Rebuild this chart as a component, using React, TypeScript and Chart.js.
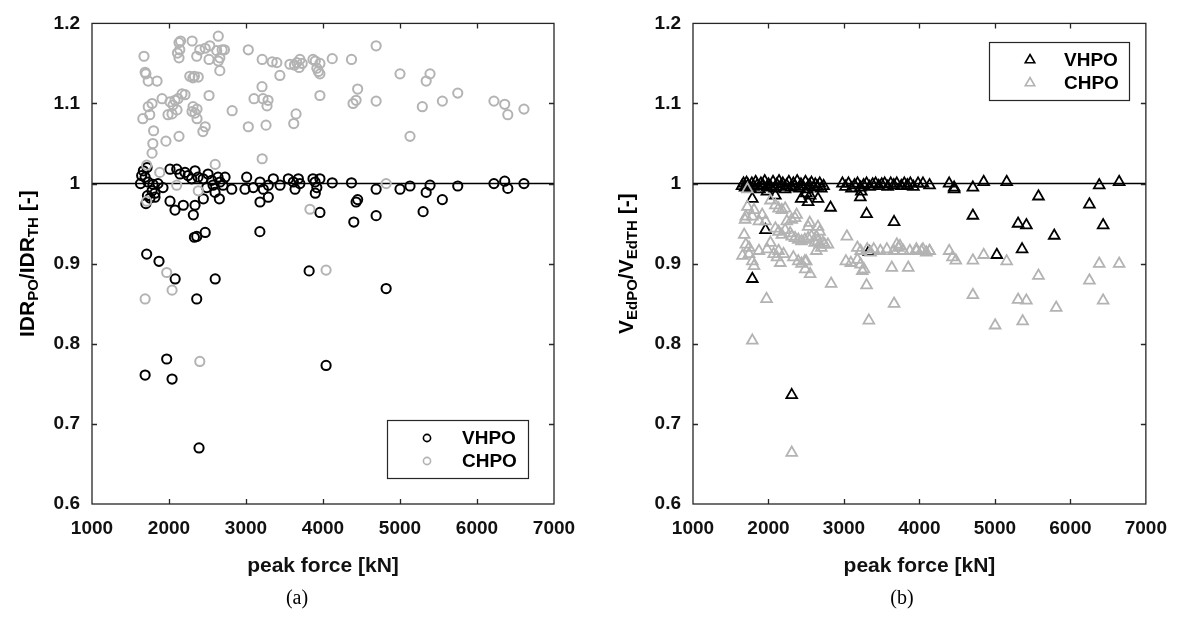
import React, { useEffect, useRef } from "react";
import { Chart, registerables } from "chart.js";

Chart.register(...registerables);

const FONT = '"Liberation Sans", Arial, Helvetica, sans-serif';
const BLACK = "#000000";
const GRAY = "#b3b3b3";

const xTickValues = [1000, 2000, 3000, 4000, 5000, 6000, 7000];
const yTickValues = [0.6, 0.7, 0.8, 0.9, 1.0, 1.1, 1.2];
const seriesNames = ["VHPO", "CHPO"];
const referenceLevel = 1;

// (a) IDR_PO / IDR_TH — VHPO
const idrVhpoX = [
  1630, 1645, 1667, 1690, 1715, 1727, 1753, 1780, 1792, 1818, 1818, 1857, 1922, 1700, 1720,
  2013, 2100, 2143, 2208, 2247, 2295, 2338, 2377, 2443, 2490, 2507, 2555, 2572, 2598, 2637, 2663, 2702, 2728, 2815,
  2013, 2078, 2186, 2316, 2338, 2446, 2654, 2330, 2360, 2470,
  3009, 2987, 3095, 3182, 3225, 3290, 3355, 3442, 3182, 3290, 3180, 3550, 3615, 3680, 3637, 3700,
  3870, 3897, 3960, 3920, 3900, 3960, 4120, 4370, 4430, 4450, 4400, 4690, 4690, 5000, 5130, 5340, 5390, 5300,
  5550, 5750, 6220, 6360, 6400, 6610,
  1710, 1870, 2080, 2600, 2360, 3820, 4820, 1970, 1690, 2040, 4040, 2390,
];
const idrVhpoY = [
  1.0, 1.01, 1.016, 1.008, 1.02, 1.002, 0.982, 0.991, 0.999, 0.988, 0.983, 1.0, 0.995, 0.975, 0.985,
  1.018, 1.018, 1.012, 1.014, 1.01, 1.006, 1.016, 1.008, 1.006, 0.995, 1.012, 1.004, 0.998, 0.989, 1.008, 1.002, 0.998, 1.008, 0.993,
  0.978, 0.967, 0.973, 0.961, 0.973, 0.981, 0.981, 0.933, 0.934, 0.939,
  1.008, 0.993, 0.995, 1.002, 0.993, 0.998, 1.006, 0.998, 0.977, 0.983, 0.94, 1.006, 1.002, 1.006, 0.993, 1.0,
  1.006, 1.002, 1.006, 0.995, 0.988, 0.964, 1.001, 1.001, 0.977, 0.98, 0.952, 0.993, 0.96, 0.993, 0.997, 0.989, 0.998, 0.965,
  0.98, 0.997, 1.0, 1.003, 0.994, 1.0,
  0.912, 0.903, 0.881, 0.881, 0.856, 0.891, 0.869, 0.781, 0.761, 0.756, 0.773, 0.67,
];

// (a) IDR_PO / IDR_TH — CHPO
const idrChpoX = [
  1675, 1690, 1700, 1730, 1845, 2130, 2150, 2140, 2110, 2130, 2300, 2400, 2470, 2530, 2360, 2520, 2640, 2620, 2690, 2720,
  2660, 2640, 2660, 2270, 2330, 2380, 2310, 3030, 3210, 3340, 3400, 3440, 3570, 3660, 3690, 3700, 3630, 3730, 3870, 3900,
  3920, 3960, 3940, 3960, 4120, 4370, 4690, 1660, 1730, 1780, 1910, 1750, 2013, 2052, 2078, 2117, 2169, 2208, 2104, 2039,
  1987, 2312, 2364, 2299, 2338, 2364, 2520, 2470, 2440, 1800, 1790, 1780, 1960, 2130, 2820, 3104, 3208, 3221, 3286, 3273,
  3030, 3260, 3650, 3620, 3210, 2600, 1710, 1880, 2100, 2380, 1710, 3830, 3960, 5000, 5390, 5340, 4450, 4430, 4390, 4690,
  5290, 5550, 5750, 5130, 6220, 6360, 6400, 6610, 4820, 4040, 1690, 1970, 2040, 2400,
];
const idrChpoY = [
  1.159, 1.139, 1.137, 1.128, 1.128, 1.176, 1.178, 1.167, 1.163, 1.157, 1.178, 1.167, 1.169, 1.172, 1.159, 1.155, 1.184, 1.166, 1.167, 1.167,
  1.157, 1.153, 1.141, 1.134, 1.134, 1.133, 1.132, 1.167, 1.155, 1.152, 1.151, 1.135, 1.149, 1.151, 1.145, 1.155, 1.148, 1.15, 1.155, 1.153,
  1.144, 1.15, 1.14, 1.137, 1.156, 1.155, 1.172, 1.081, 1.096, 1.1, 1.106, 1.086, 1.102, 1.098, 1.104, 1.106, 1.112, 1.111, 1.092, 1.087,
  1.086, 1.096, 1.093, 1.09, 1.088, 1.081, 1.11, 1.071, 1.065, 1.066, 1.05, 1.038, 1.053, 1.059, 1.091, 1.106, 1.121, 1.106, 1.104, 1.097,
  1.071, 1.073, 1.087, 1.075, 1.031, 1.024, 1.023, 1.014, 0.998, 0.991, 0.978, 0.968, 1.11, 1.137, 1.137, 1.128, 1.118, 1.104, 1.1, 1.103,
  1.096, 1.103, 1.113, 1.059, 1.103, 1.099, 1.086, 1.093, 1.0, 0.892, 0.856, 0.889, 0.867, 0.778,
];

// (b) V_EdPO / V_EdTH — VHPO
const vedVhpoX = [
  1650, 1670, 1690, 1710, 1730, 1760, 1780, 1800, 1830, 1850, 1880, 1900, 1930, 1950, 1980, 2000, 2030, 2060, 2080, 2110,
  2140, 2160, 2190, 2220, 2240, 2270, 2300, 2330, 2350, 2380, 2410, 2430, 2460, 2490, 2510, 2540, 2570, 2600, 2620, 2650,
  2680, 2700, 2730, 2980, 3020, 3060, 3100, 3140, 3180, 3220, 3260, 3300, 3340, 3380, 3420, 3460, 3500, 3540, 3580, 3620,
  3660, 3700, 3760, 3800, 3840, 3880, 3920, 3982, 4047, 4134, 4394, 4460, 4460, 4708, 4851, 5156, 5577, 4708, 5307, 5417,
  5786, 5025, 5360, 6382, 6646, 6252, 6434, 1786, 2822, 3300, 3664, 1961, 3330, 1786, 2434, 2525, 2656, 2552, 3217, 3230,
  2091, 2308, 1980, 2500,
];
const vedVhpoY = [
  0.997, 1.0, 0.995, 1.001, 0.998, 0.994, 1.0, 0.996, 1.002, 0.998, 0.993, 1.0, 0.997, 1.003, 0.995, 0.999, 0.996, 1.002, 0.994, 0.999,
  1.003, 0.996, 1.0, 0.993, 0.998, 1.002, 0.995, 1.0, 0.997, 1.003, 0.994, 0.999, 0.996, 1.002, 0.993, 0.998, 1.001, 0.995, 0.999, 0.996,
  1.0, 0.994, 0.997, 1.0, 0.996, 1.0, 0.994, 0.998, 1.0, 0.995, 0.998, 1.0, 0.996, 0.999, 1.0, 0.997, 0.999, 1.0, 0.996, 1.0,
  0.998, 1.0, 0.997, 1.0, 0.998, 1.0, 0.996, 1.0, 1.0, 0.998, 1.0, 0.995, 0.993, 0.995, 1.002, 1.002, 0.984, 0.96, 0.95, 0.948,
  0.935, 0.911, 0.918, 0.998, 1.002, 0.974, 0.948, 0.981, 0.97, 0.962, 0.952, 0.942, 0.915, 0.881, 0.981, 0.977, 0.981, 0.985, 0.983, 0.99,
  0.985, 0.736, 0.99, 0.988,
];

// (b) V_EdPO / V_EdTH — CHPO
const vedChpoX = [
  1721, 1721, 1700, 1690, 1808, 1786, 1917, 1874, 1961, 2026, 2091, 2134, 2178, 2221, 2373, 2352, 2547, 2656, 1678, 1700,
  1656, 1743, 1786, 1743, 1808, 1874, 1982, 2026, 2069, 2134, 2200, 2113, 2156, 2091, 2134, 2178, 2221, 2287, 2308, 2352,
  2395, 2438, 2482, 2243, 2308, 2330, 2395, 2438, 2482, 2500, 2526, 2569, 2613, 2656, 2678, 2721, 2743, 2787, 2634, 2700,
  2526, 2678, 2634, 3039, 3026, 3091, 3178, 3221, 3265, 3243, 3178, 3221, 3308, 3352, 3395, 3482, 3569, 3656, 3721, 3786,
  3873, 3960, 4026, 4091, 4134, 3743, 3700, 3634, 3852, 2487, 2552, 2830, 3300, 3960, 4047, 4134, 4394, 4438, 4482, 4708,
  4851, 5156, 5577, 4708, 5307, 5417, 6382, 6646, 6252, 6434, 1786, 1974, 3330, 3664, 2308, 5003, 5368, 5812,
];
const vedChpoY = [
  0.993, 0.971, 0.959, 0.955, 0.967, 0.959, 0.961, 0.953, 0.953, 0.979, 0.973, 0.969, 0.967, 0.969, 0.961, 0.957, 0.951, 0.946, 0.936, 0.924,
  0.91, 0.912, 0.903, 0.92, 0.897, 0.916, 0.918, 0.926, 0.912, 0.916, 0.912, 0.908, 0.901, 0.944, 0.94, 0.936, 0.942, 0.938, 0.934, 0.932,
  0.93, 0.928, 0.93, 0.953, 0.955, 0.908, 0.903, 0.9, 0.903, 0.903, 0.932, 0.934, 0.926, 0.928, 0.924, 0.926, 0.924, 0.924, 0.916, 0.92,
  0.946, 0.94, 0.934, 0.934, 0.903, 0.901, 0.905, 0.899, 0.893, 0.891, 0.92, 0.916, 0.918, 0.914, 0.918, 0.916, 0.918, 0.916, 0.92, 0.916,
  0.916, 0.918, 0.916, 0.914, 0.916, 0.922, 0.924, 0.895, 0.895, 0.893, 0.887, 0.875, 0.873, 0.916, 0.918, 0.916, 0.916, 0.908, 0.904, 0.904,
  0.911, 0.903, 0.885, 0.861, 0.855, 0.854, 0.9, 0.9, 0.879, 0.854, 0.804, 0.856, 0.829, 0.85, 0.664, 0.823, 0.828, 0.845,
];

type Seg = [string, boolean];

interface PanelCfg {
  vhpoX: number[];
  vhpoY: number[];
  chpoX: number[];
  chpoY: number[];
  marker: "circle" | "triangle";
  yTitle: Seg[];
  yTitleX: number;
  yAxisWidth: number;
  padRight: number;
  legendBox: [number, number, number, number];
  legendMarkerX: number;
  legendTextX: number;
  legendRowsY: [number, number];
}

const zip = (xs: number[], ys: number[]) => xs.map((x, i) => ({ x, y: ys[i] }));

function drawMarker(ctx: CanvasRenderingContext2D, kind: string, x: number, y: number, r: number) {
  ctx.beginPath();
  if (kind === "circle") {
    ctx.arc(x, y, r, 0, Math.PI * 2);
  } else {
    for (let k = 0; k < 3; k++) {
      const a = (k * 2 * Math.PI) / 3;
      const px = x + Math.sin(a) * r;
      const py = y - Math.cos(a) * r;
      if (k === 0) ctx.moveTo(px, py);
      else ctx.lineTo(px, py);
    }
    ctx.closePath();
  }
  ctx.stroke();
}

function makeFramePlugin(cfg: PanelCfg) {
  return {
    id: "frameAndExtras",
    afterDatasetsDraw(chart: any) {
      const { ctx, chartArea } = chart;
      const { left, right, top, bottom } = chartArea;
      const xs = chart.scales.x;
      const ys = chart.scales.y;
      ctx.save();
      ctx.strokeStyle = "#262626";
      ctx.lineWidth = 1.3;
      ctx.strokeRect(left, top, right - left, bottom - top);
      ctx.beginPath();
      const tl = 5;
      xTickValues.slice(1, -1).forEach((v) => {
        const px = Math.round(xs.getPixelForValue(v)) + 0.5;
        ctx.moveTo(px, bottom);
        ctx.lineTo(px, bottom - tl);
        ctx.moveTo(px, top);
        ctx.lineTo(px, top + tl);
      });
      yTickValues.slice(1, -1).forEach((v) => {
        const py = Math.round(ys.getPixelForValue(v)) + 0.5;
        ctx.moveTo(left, py);
        ctx.lineTo(left + tl, py);
        ctx.moveTo(right, py);
        ctx.lineTo(right - tl, py);
      });
      ctx.stroke();

      // legend
      const [bx0, by0, bx1, by1] = cfg.legendBox;
      ctx.fillStyle = "#ffffff";
      ctx.fillRect(bx0, by0, bx1 - bx0, by1 - by0);
      ctx.strokeStyle = "#262626";
      ctx.lineWidth = 1.2;
      ctx.strokeRect(bx0 + 0.5, by0 + 0.5, bx1 - bx0, by1 - by0);
      const colors = [BLACK, GRAY];
      ctx.font = `bold 19px ${FONT}`;
      ctx.textBaseline = "middle";
      ctx.textAlign = "left";
      seriesNames.forEach((name, i) => {
        const yy = cfg.legendRowsY[i];
        ctx.strokeStyle = colors[i];
        ctx.lineWidth = 1.6;
        drawMarker(ctx, cfg.marker, cfg.legendMarkerX, yy, cfg.marker === "circle" ? 3.6 : 5.5);
        ctx.fillStyle = "#000";
        ctx.fillText(name, cfg.legendTextX, yy + 1);
      });

      // y title with subscripts
      const main = `bold 21px ${FONT}`;
      const sub = `bold 15px ${FONT}`;
      let total = 0;
      cfg.yTitle.forEach(([t, s]) => {
        ctx.font = s ? sub : main;
        total += ctx.measureText(t).width;
      });
      ctx.translate(cfg.yTitleX, (top + bottom) / 2);
      ctx.rotate(-Math.PI / 2);
      ctx.fillStyle = "#000";
      ctx.textBaseline = "middle";
      let cx = -total / 2;
      cfg.yTitle.forEach(([t, s]) => {
        ctx.font = s ? sub : main;
        ctx.fillText(t, cx, s ? 6 : 0);
        cx += ctx.measureText(t).width;
      });
      ctx.restore();
    },
  };
}

function Panel({ cfg, leftPos }: { cfg: PanelCfg; leftPos: number }) {
  const ref = useRef<HTMLCanvasElement>(null);
  useEffect(() => {
    const isCircle = cfg.marker === "circle";
    const chart = new Chart(ref.current as HTMLCanvasElement, {
      type: "scatter",
      data: {
        datasets: [
          {
            label: seriesNames[1],
            data: zip(cfg.chpoX, cfg.chpoY),
            pointStyle: cfg.marker,
            pointRadius: isCircle ? 4.6 : 6.2,
            borderColor: GRAY,
            backgroundColor: "rgba(0,0,0,0)",
            borderWidth: isCircle ? 2 : 1.8,
          },
          {
            label: seriesNames[0],
            data: zip(cfg.vhpoX, cfg.vhpoY),
            pointStyle: cfg.marker,
            pointRadius: isCircle ? 4.6 : 6.2,
            borderColor: BLACK,
            backgroundColor: "rgba(0,0,0,0)",
            borderWidth: isCircle ? 2 : 1.8,
          },
          {
            type: "line",
            label: "ref",
            data: [
              { x: xTickValues[0], y: referenceLevel },
              { x: xTickValues[xTickValues.length - 1], y: referenceLevel },
            ],
            borderColor: BLACK,
            borderWidth: 1.5,
            pointRadius: 0,
            showLine: true,
          } as any,
        ],
      },
      options: {
        animation: false,
        responsive: false,
        events: [],
        layout: { padding: { left: 0, top: 15, right: cfg.padRight, bottom: 43 } },
        plugins: { legend: { display: false }, tooltip: { enabled: false } },
        scales: {
          x: {
            type: "linear",
            min: xTickValues[0],
            max: xTickValues[xTickValues.length - 1],
            afterBuildTicks: (s: any) => {
              s.ticks = xTickValues.map((v) => ({ value: v }));
            },
            afterFit: (s: any) => {
              s.height = 75;
            },
            grid: { display: false, drawTicks: false },
            border: { display: false },
            ticks: {
              padding: 13,
              color: "#111",
              font: { family: FONT, size: 19, weight: "bold" },
              maxRotation: 0,
              callback: (v: any) => String(v),
            },
            title: {
              display: true,
              text: "peak force [kN]",
              color: "#111",
              font: { family: FONT, size: 21, weight: "bold" },
              padding: { top: 0, bottom: 0 },
            },
          },
          y: {
            type: "linear",
            min: yTickValues[0],
            max: yTickValues[yTickValues.length - 1],
            afterBuildTicks: (s: any) => {
              s.ticks = yTickValues.map((v) => ({ value: v }));
            },
            afterFit: (s: any) => {
              s.width = cfg.yAxisWidth;
            },
            grid: { display: false, drawTicks: false },
            border: { display: false },
            ticks: {
              padding: 12,
              color: "#111",
              font: { family: FONT, size: 19, weight: "bold" },
              callback: (v: any) => String(Number(Number(v).toFixed(1))),
            },
          },
        },
      },
      plugins: [makeFramePlugin(cfg)],
    } as any);
    return () => chart.destroy();
  }, []);
  return (
    <div style={{ position: "absolute", left: leftPos, top: 0, width: 590, height: 622 }}>
      <canvas ref={ref} width={590} height={622} style={{ width: 590, height: 622, display: "block" }} />
    </div>
  );
}

const panelA: PanelCfg = {
  vhpoX: idrVhpoX,
  vhpoY: idrVhpoY,
  chpoX: idrChpoX,
  chpoY: idrChpoY,
  marker: "circle",
  yTitle: [["IDR", false], ["PO", true], ["/IDR", false], ["TH", true], [" [-]", false]],
  yTitleX: 28,
  yAxisWidth: 92,
  padRight: 36,
  legendBox: [387, 420, 528, 478],
  legendMarkerX: 427,
  legendTextX: 462,
  legendRowsY: [438, 461],
};

const panelB: PanelCfg = {
  vhpoX: vedVhpoX,
  vhpoY: vedVhpoY,
  chpoX: vedChpoX,
  chpoY: vedChpoY,
  marker: "triangle",
  yTitle: [["V", false], ["EdPO", true], ["/V", false], ["EdTH", true], [" [-]", false]],
  yTitleX: 37,
  yAxisWidth: 103,
  padRight: 27,
  legendBox: [399, 42, 539, 100],
  legendMarkerX: 440,
  legendTextX: 474,
  legendRowsY: [60, 83],
};

export default function App() {
  return (
    <div style={{ position: "absolute", left: 0, top: 0, width: 1180, height: 622, background: "#fff" }}>
      <Panel cfg={panelA} leftPos={0} />
      <Panel cfg={panelB} leftPos={590} />
      <div
        style={{
          position: "absolute",
          left: 297,
          top: 597,
          transform: "translate(-50%, -50%)",
          font: '20px "Liberation Serif", "Times New Roman", serif',
          color: "#000",
        }}
      >
        (a)
      </div>
      <div
        style={{
          position: "absolute",
          left: 902,
          top: 597,
          transform: "translate(-50%, -50%)",
          font: '20px "Liberation Serif", "Times New Roman", serif',
          color: "#000",
        }}
      >
        (b)
      </div>
    </div>
  );
}
